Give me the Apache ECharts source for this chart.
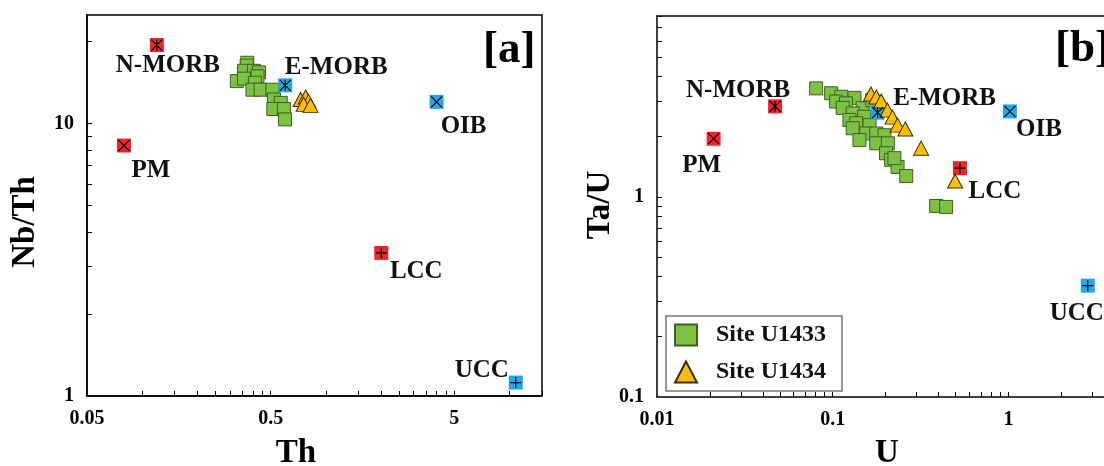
<!DOCTYPE html>
<html>
<head>
<meta charset="utf-8">
<script src="https://cdn.jsdelivr.net/npm/echarts@6/dist/echarts.min.js"></script>
<style>
  html, body { margin: 0; padding: 0; background: #fff; }
  #chart { width: 1104px; height: 466px; }
</style>
</head>
<body>
<div id="chart"></div>
<script>
// ---- Panel [a]: Th (ppm) vs Nb/Th ----
const thU1433   = [0.373, 0.370, 0.358, 0.406, 0.432, 0.424, 0.327, 0.358, 0.410, 0.398, 0.441, 0.511, 0.521, 0.567, 0.517, 0.590, 0.598];
const nbThU1433 = [16.7, 16.3, 15.6, 15.6, 15.4, 14.9, 14.3, 14.6, 14.1, 13.3, 13.3, 13.3, 12.25, 11.9, 11.3, 11.3, 10.35];
const thU1434   = [0.728, 0.775, 0.804, 0.756, 0.824];
const nbThU1434 = [12.25, 12.5, 12.05, 11.75, 11.65];

// ---- Panel [b]: U (ppm) vs Ta/U ----
const uU1433   = [0.0805, 0.098, 0.112, 0.133, 0.1045, 0.119, 0.114, 0.148, 0.130, 0.151, 0.1245, 0.136, 0.162, 0.130, 0.155, 0.177, 0.197, 0.177, 0.206, 0.201, 0.215, 0.234, 0.262, 0.388, 0.442, 0.142, 0.168, 0.2245];
const taUU1433 = [3.48, 3.29, 3.16, 3.12, 2.99, 2.93, 2.78, 2.77, 2.61, 2.51, 2.42, 2.33, 2.28, 2.20, 2.07, 2.07, 2.03, 1.85, 1.85, 1.65, 1.53, 1.41, 1.27, 0.90, 0.89, 1.92, 3.04, 1.56];
const uU1434   = [0.165, 0.177, 0.189, 0.205, 0.219, 0.234, 0.259, 0.3185, 0.4975];
const taUU1434 = [3.26, 3.15, 3.01, 2.71, 2.50, 2.28, 2.18, 1.75, 1.20];

// ---- Reference reservoirs ----
const resNames = ['PM', 'N-MORB', 'E-MORB', 'OIB', 'LCC', 'UCC'];
const resTh    = [0.0795, 0.12, 0.60, 4.0, 2.0, 10.8];
const resNbTh  = [8.3, 19.4, 13.8, 12.0, 3.35, 1.12];
const resU     = [0.021, 0.047, 0.18, 1.02, 0.53, 2.83];
const resTaU   = [1.95, 2.83, 2.63, 2.67, 1.39, 0.36];

// ---- Axis tick labels ----
const thTickLabels   = [0.05, 0.5, 5];
const nbThTickLabels = [1, 10];
const uTickLabels    = [0.01, 0.1, 1];
const taUTickLabels  = [0.1, 1];

// ---- Styling ----
const SERIF = "'Liberation Serif', 'Times New Roman', serif";
const RED = '#f0262a';
const BLUE = '#22a8e6';
const GLYPH = {
  cross: 'path://M0,0L10,10M10,0L0,10',
  star:  'path://M0,0L10,10M10,0L0,10M5,0L5,10',
  plus:  'path://M5,0L5,10M0,5L10,5'
};
// marker fill, inner glyph and label offsets for each reservoir in panel a / b
const resStyle = {
  'PM':     { color: RED,  glyph: 'cross', a: [27, 25],  b: [-12, 27] },
  'N-MORB': { color: RED,  glyph: 'star',  a: [11, 21],  b: [-37, -16] },
  'E-MORB': { color: BLUE, glyph: 'star',  a: [51, -18], b: [67, -14] },
  'OIB':    { color: BLUE, glyph: 'cross', a: [27, 25],  b: [29, 18] },
  'LCC':    { color: RED,  glyph: 'plus',  a: [35, 19],  b: [35, 23] },
  'UCC':    { color: BLUE, glyph: 'plus',  a: [-34, -12], b: [-11, 28] }
};

// classic log-axis minor ticks: k * start * 10^d, k = 2..10
function logTicks(start, decades, max) {
  const out = [];
  for (let d = 0; d < decades; d++) {
    const base = start * Math.pow(10, d);
    for (let k = 2; k <= 10; k++) {
      const v = +(base * k).toPrecision(6);
      if (v <= max) out.push(v);
    }
  }
  return out;
}

function logAxis(gridIndex, min, max, labels, ticks) {
  return {
    type: 'log', logBase: 10, gridIndex, min, max,
    axisLine: { show: true, onZero: false, lineStyle: { color: '#000', width: 1.5 } },
    axisTick: { show: true, inside: true, length: 5, customValues: ticks,
                lineStyle: { color: '#000', width: 1 } },
    axisLabel: { customValues: labels, formatter: v => String(v),
                 fontSize: 20, fontWeight: 'bold', fontFamily: SERIF, color: '#000', margin: 13 },
    splitLine: { show: false }
  };
}

function pairs(xs, ys) { return xs.map((x, i) => [x, ys[i]]); }

function sampleSeries(name, xs, ys, panel, shape) {
  const isSq = shape === 'rect';
  return {
    type: 'scatter', name, xAxisIndex: panel, yAxisIndex: panel,
    data: pairs(xs, ys),
    symbol: shape,
    symbolSize: isSq ? 13 : [15, 14],
    itemStyle: isSq
      ? { color: '#7dc143', borderColor: '#3f5f24', borderWidth: 1, opacity: 1 }
      : { color: '#ffbf00', borderColor: '#3a2e00', borderWidth: 1, opacity: 1 },
    z: isSq ? 2 : 4,
    animation: false
  };
}

function reservoirSeries(xs, ys, panel) {
  const key = panel === 0 ? 'a' : 'b';
  const boxes = {
    type: 'scatter', name: 'reservoirs-' + key, xAxisIndex: panel, yAxisIndex: panel,
    symbol: 'rect', symbolSize: 14, z: 3, animation: false,
    data: resNames.map((n, i) => ({
      name: n, value: [xs[i], ys[i]],
      itemStyle: { color: resStyle[n].color, borderWidth: 0, opacity: 1 },
      label: { offset: resStyle[n][key] }
    })),
    label: {
      show: true, position: 'inside', formatter: p => p.name,
      fontSize: 25, fontWeight: 'bold', fontFamily: SERIF, color: '#111'
    }
  };
  const marks = {
    type: 'scatter', name: 'reservoir-marks-' + key, xAxisIndex: panel, yAxisIndex: panel,
    symbolSize: 11, z: 5, animation: false, silent: true,
    data: resNames.map((n, i) => ({
      value: [xs[i], ys[i]], symbol: GLYPH[resStyle[n].glyph]
    })),
    itemStyle: { color: 'rgba(0,0,0,0)', borderColor: '#000', borderWidth: 1.1, opacity: 1 }
  };
  return [boxes, marks];
}

function titleText(text, x, y, rot, size) {
  return {
    type: 'text', x, y, rotation: rot || 0, z: 10,
    style: { text, fontSize: size, fontWeight: 'bold', fontFamily: SERIF, fill: '#000',
             align: 'center', verticalAlign: 'middle' }
  };
}

const chart = echarts.init(document.getElementById('chart'), null, { renderer: 'canvas' });

// U axis of panel b: 0.01 .. 3.5 visible, the frame continues past the page edge
const uMin = 0.01, uMax = 3.5;

chart.setOption({
  animation: false,
  backgroundColor: '#fff',
  grid: [
    { left: 87, top: 15, width: 455, height: 381, show: true, borderColor: '#000', borderWidth: 1.5 },
    { left: 657, top: 16, right: 0, height: 381, show: false }
  ],
  xAxis: [
    logAxis(0, 0.05, 15, thTickLabels, logTicks(0.05, 3, 15)),
    logAxis(1, uMin, uMax, uTickLabels, logTicks(uMin, 3, uMax)),
    // top edge of the panel b frame
    { type: 'log', logBase: 10, gridIndex: 1, min: uMin, max: uMax, position: 'top',
      axisLine: { show: true, onZero: false, lineStyle: { color: '#000', width: 1.5 } },
      axisTick: { show: false }, axisLabel: { show: false }, splitLine: { show: false } }
  ],
  yAxis: [
    logAxis(0, 1, 25, nbThTickLabels, logTicks(1, 2, 25)),
    logAxis(1, 0.1, 8, taUTickLabels, logTicks(0.1, 2, 8))
  ],
  legend: {
    data: ['Site U1433', 'Site U1434'],
    orient: 'vertical', left: 666, top: 316,
    padding: [7, 16, 7, 8], itemGap: 13,
    itemWidth: 22, itemHeight: 21,
    borderColor: '#777', borderWidth: 1.5, backgroundColor: '#fff',
    textStyle: { fontSize: 24, fontWeight: 'bold', fontFamily: SERIF, color: '#111',
                 padding: [0, 0, 0, 14] },
    selectedMode: false
  },
  graphic: [
    titleText('Th', 296, 453, 0, 33),
    titleText('U', 887, 453, 0, 33),
    titleText('Nb/Th', 25, 222, Math.PI / 2, 33),
    titleText('Ta/U', 600, 205, Math.PI / 2, 33),
    { type: 'text', x: 483, y: 50, z: 10,
      style: { text: '[a]', fontSize: 45, fontWeight: 'bold', fontFamily: SERIF, fill: '#000',
               align: 'left', verticalAlign: 'middle' } },
    { type: 'text', x: 1055, y: 49, z: 10,
      style: { text: '[b]', fontSize: 45, fontWeight: 'bold', fontFamily: SERIF, fill: '#000',
               align: 'left', verticalAlign: 'middle' } }
  ],
  series: [
    sampleSeries('Site U1433', thU1433, nbThU1433, 0, 'rect'),
    sampleSeries('Site U1434', thU1434, nbThU1434, 0, 'triangle'),
    ...reservoirSeries(resTh, resNbTh, 0),
    sampleSeries('Site U1433', uU1433, taUU1433, 1, 'rect'),
    sampleSeries('Site U1434', uU1434, taUU1434, 1, 'triangle'),
    ...reservoirSeries(resU, resTaU, 1)
  ]
});
</script>
</body>
</html>
